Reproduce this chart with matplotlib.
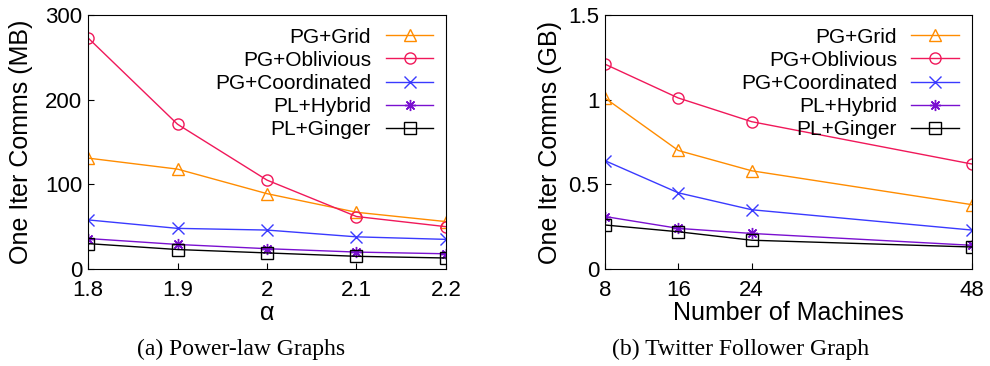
import matplotlib
matplotlib.use("Agg")
import matplotlib.pyplot as plt

# series data
ALPHA = [1.8, 1.9, 2.0, 2.1, 2.2]
ALPHA_LABELS = ["1.8", "1.9", "2", "2.1", "2.2"]
MACHINES = [8, 16, 24, 48]

SERIES = ["PG+Grid", "PG+Oblivious", "PG+Coordinated", "PL+Hybrid", "PL+Ginger"]

# (a) power-law graphs, MB
grid_mb = [131, 118, 89, 67, 56]
oblivious_mb = [273, 171, 105, 62, 50]
coordinated_mb = [58, 48, 46, 38, 35]
hybrid_mb = [36, 29, 24, 20, 18]
ginger_mb = [30, 23, 19, 15, 13]

# (b) twitter follower graph, GB
grid_gb = [1.01, 0.70, 0.58, 0.38]
oblivious_gb = [1.21, 1.01, 0.87, 0.62]
coordinated_gb = [0.64, 0.45, 0.35, 0.23]
hybrid_gb = [0.31, 0.24, 0.21, 0.14]
ginger_gb = [0.26, 0.22, 0.17, 0.13]

COLORS = ["#FF8C00", "#F0185A", "#3A3AFF", "#7A10D0", "#000000"]
MARKERS = ["^", "o", "x", (8, 2, 0), "s"]

plt.rcParams["font.family"] = ["Liberation Sans", "DejaVu Sans"]

fig = plt.figure(figsize=(9.9, 3.66), dpi=100)
ax_a = fig.add_axes([0.0889, 0.265, 0.3616, 0.694])
ax_b = fig.add_axes([0.611, 0.265, 0.3707, 0.694])


def draw(ax, xs, ys_list):
    for ys, name, color, marker in zip(ys_list, SERIES, COLORS, MARKERS):
        ax.plot(xs, ys, color=color, marker=marker, markersize=8,
                markerfacecolor="none", markeredgecolor=color,
                markeredgewidth=1.0, linewidth=1.0, label=name)
    ax.tick_params(direction="in", labelsize=16, length=4)
    ax.tick_params(axis="x", pad=8)
    ax.tick_params(axis="y", pad=4)
    leg = ax.legend(loc="upper right", frameon=False, markerfirst=False,
                    fontsize=15, handlelength=2.3, labelspacing=0.2,
                    borderaxespad=0.5, handletextpad=0.7, borderpad=0.1)
    for t in leg.get_texts():
        t.set_ha("right")


draw(ax_a, ALPHA, [grid_mb, oblivious_mb, coordinated_mb, hybrid_mb, ginger_mb])
ax_a.set_xlim(1.8, 2.2)
ax_a.set_ylim(0, 300)
ax_a.set_xticks(ALPHA)
ax_a.set_xticklabels(ALPHA_LABELS)
ax_a.set_yticks([0, 100, 200, 300])
ax_a.set_xlabel("\u03b1", fontsize=18, labelpad=0)
ax_a.set_ylabel("One Iter Comms (MB)", fontsize=18)
ax_a.yaxis.set_label_coords(-0.154, 0.5)

draw(ax_b, MACHINES, [grid_gb, oblivious_gb, coordinated_gb, hybrid_gb, ginger_gb])
ax_b.set_xlim(8, 48)
ax_b.set_ylim(0, 1.5)
ax_b.set_xticks(MACHINES)
ax_b.set_yticks([0, 0.5, 1, 1.5])
ax_b.set_yticklabels(["0", "0.5", "1", "1.5"])
ax_b.set_xlabel("Number of Machines", fontsize=18, labelpad=0)
ax_b.set_ylabel("One Iter Comms (GB)", fontsize=18)
ax_b.yaxis.set_label_coords(-0.117, 0.5)

fig.text(0.243, 0.03, "(a) Power-law Graphs", ha="center",
         family="Liberation Serif", fontsize=17)
fig.text(0.748, 0.03, "(b) Twitter Follower Graph", ha="center",
         family="Liberation Serif", fontsize=17)

fig.savefig("out.png", dpi=100, facecolor="white")
